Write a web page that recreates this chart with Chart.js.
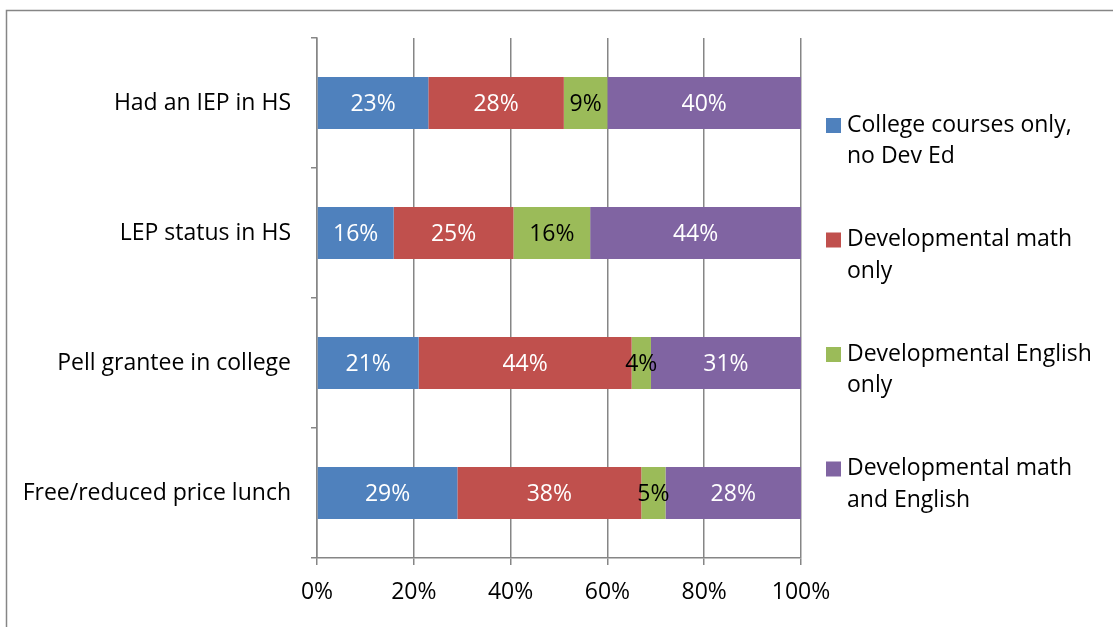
<!DOCTYPE html>
<html>
<head>
<meta charset="utf-8">
<title>Course-taking by student group</title>
<script src="https://cdn.jsdelivr.net/npm/chart.js@4.4.0/dist/chart.umd.min.js"></script>
<style>
  html, body { margin: 0; padding: 0; background: #fff; }
  #wrap { width: 1113px; height: 627px; position: relative; }
</style>
</head>
<body>
<div id="wrap"><canvas id="myBarChart"></canvas></div>
<script>
// Student groups (one bar each)
const categories = ['Had an IEP in HS', 'LEP status in HS', 'Pell grantee in college', 'Free/reduced price lunch'];

// Series names, split the way they wrap in the legend
const seriesNames = [
    ['College courses only,', 'no Dev Ed'],
    ['Developmental math', 'only'],
    ['Developmental English', 'only'],
    ['Developmental math', 'and English']
];

// Percent of each group
const collegeOnly    = [23, 16, 21, 29];
const devMathOnly    = [28, 25, 44, 38];
const devEnglishOnly = [9, 16, 4, 5];
const devMathEnglish = [40, 44, 31, 28];

const xTicks = [0, 20, 40, 60, 80, 100];

const seriesColors = ['#4F81BD', '#C0504D', '#9BBB59', '#8064A2'];
const labelColors  = ['#ffffff', '#ffffff', '#000000', '#ffffff'];

const FONT = '"Open Sans", "Liberation Sans", sans-serif';
const FONT_SIZE = 23;

// 100% stacked: each bar is scaled to its own row total, labels keep the raw value
const allSeries = [collegeOnly, devMathOnly, devEnglishOnly, devMathEnglish];
const rowTotals = categories.map((c, i) => allSeries.reduce((s, arr) => s + arr[i], 0));

const datasets = allSeries.map((values, k) => ({
    label: seriesNames[k].join(' '),
    data: values.map((v, i) => v / rowTotals[i] * 100),
    values: values,
    labelColor: labelColors[k],
    backgroundColor: seriesColors[k],
    borderWidth: 0,
    barPercentage: 0.4,
    categoryPercentage: 1.0
}));

// Outer frame of the chart object (only top and left edges fall inside the page)
const framePlugin = {
    id: 'frame',
    beforeDraw(chart) {
        const ctx = chart.ctx;
        ctx.save();
        ctx.strokeStyle = '#868686';
        ctx.lineWidth = 1.5;
        ctx.beginPath();
        ctx.moveTo(6.5, chart.height);
        ctx.lineTo(6.5, 10.5);
        ctx.lineTo(chart.width, 10.5);
        ctx.stroke();
        ctx.restore();
    }
};

// Value labels centred in each segment
const segmentLabels = {
    id: 'segmentLabels',
    afterDatasetsDraw(chart) {
        const ctx = chart.ctx;
        ctx.save();
        ctx.font = FONT_SIZE + 'px ' + FONT;
        ctx.textAlign = 'center';
        ctx.textBaseline = 'middle';
        chart.data.datasets.forEach((ds, k) => {
            const meta = chart.getDatasetMeta(k);
            meta.data.forEach((bar, i) => {
                ctx.fillStyle = ds.labelColor;
                ctx.fillText(ds.values[i] + '%', (bar.x + bar.base) / 2, bar.y + 1);
            });
        });
        ctx.restore();
    }
};

// Legend on the right with wrapped names
const sideLegend = {
    id: 'sideLegend',
    afterDraw(chart) {
        const ctx = chart.ctx;
        const area = chart.chartArea;
        const x = area.right + 25;
        ctx.save();
        ctx.font = FONT_SIZE + 'px ' + FONT;
        ctx.textBaseline = 'middle';
        chart.data.datasets.forEach((ds, k) => {
            const y = area.top + 87 + k * 114.5;
            ctx.fillStyle = ds.backgroundColor;
            ctx.fillRect(x, y - 7, 15, 15);
            ctx.fillStyle = '#000';
            seriesNames[k].forEach((line, j) => {
                ctx.fillText(line, x + 21, y + j * 31.5);
            });
        });
        ctx.restore();
    }
};

const ctxBar = document.getElementById('myBarChart').getContext('2d');
const myBarChart = new Chart(ctxBar, {
    type: 'bar',
    data: {
        labels: categories,
        datasets: datasets
    },
    options: {
        indexAxis: 'y',
        responsive: true,
        maintainAspectRatio: false,
        animation: false,
        layout: {
            padding: { top: 38, right: 312, left: 0, bottom: 0 }
        },
        plugins: {
            legend: { display: false },
            tooltip: { enabled: false }
        },
        scales: {
            x: {
                stacked: true,
                min: 0,
                max: 100,
                afterBuildTicks: scale => { scale.ticks = xTicks.map(v => ({ value: v })); },
                afterFit: scale => { scale.height = 69; },
                ticks: {
                    callback: v => v + '%',
                    color: '#000',
                    font: { family: FONT, size: FONT_SIZE },
                    padding: 14,
                    maxRotation: 0
                },
                grid: { color: '#868686', lineWidth: 1.5, tickLength: 7 },
                border: { color: '#868686', width: 1.5 }
            },
            y: {
                stacked: true,
                afterFit: scale => { scale.width = 317; },
                ticks: {
                    color: '#000',
                    font: { family: FONT, size: FONT_SIZE },
                    padding: 20
                },
                grid: { drawOnChartArea: false, offset: true, tickLength: 6, color: '#868686', lineWidth: 1.5 },
                border: { color: '#868686', width: 1.5 }
            }
        }
    },
    plugins: [framePlugin, segmentLabels, sideLegend]
});
</script>
</body>
</html>
